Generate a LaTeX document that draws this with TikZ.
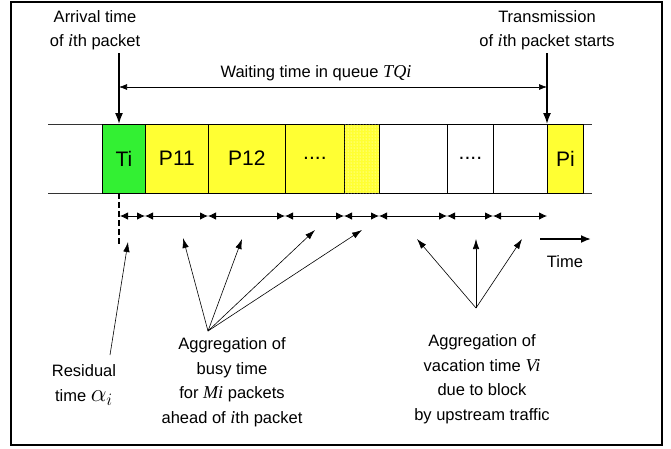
\documentclass[tikz,border=0pt]{standalone}
\usepackage{fontspec}
\setmainfont{Liberation Sans}
\newfontfamily\tms{Liberation Serif}[Scale=1.1]
\usetikzlibrary{arrows.meta,patterns}
\definecolor{cgreen}{HTML}{33F033}
\definecolor{cyellow}{HTML}{FFFF33}
\newcommand{\itx}[1]{{\tms\itshape #1}}
\begin{document}
\begin{tikzpicture}[x=1pt,y=-1pt,
  cell/.style={draw=black, line width=0.8pt, minimum height=69pt, inner sep=0pt, anchor=west, font=\fontsize{21}{24}\selectfont},
  lbl/.style={align=center, inner sep=0pt, font=\fontsize{16.5}{24.5}\selectfont},
  bigarrow/.style={line width=1.6pt, -{Latex[length=11pt,width=8pt]}},
  waitarrow/.style={line width=0.7pt, {Latex[length=8pt,width=6pt]}-{Latex[length=8pt,width=6pt]}},
  span/.style={line width=0.8pt, {Latex[length=8pt,width=7.5pt]}-{Latex[length=8pt,width=7.5pt]}},
  ptr/.style={line width=0.6pt, -{Latex[length=10pt,width=6.5pt]}},
  tape/.style={line width=0.8pt, draw=black!80}]
\useasboundingbox (0,0) rectangle (671,448);
\draw[line width=1.8pt] (11,2) rectangle (662,445);

% tape lines
\coordinate (tl1) at (48,124);
\coordinate (tl2) at (592,124);
\coordinate (bl1) at (48,193);
\coordinate (bl2) at (592,193);
\draw[tape] (tl1) -- (tl2);
\draw[tape] (bl1) -- (bl2);

% cells
\node[cell, fill=cgreen, minimum width=43pt] (ti) at (102,158.5) {Ti};
\node[cell, fill=cyellow, minimum width=63pt] (p11) at (145,158.5) {P11};
\node[cell, fill=cyellow, minimum width=77pt] (p12) at (208,158.5) {P12};
\node[cell, fill=cyellow, minimum width=59pt] (pd) at (285,158.5) {....};
\node[cell, fill=cyellow, minimum width=35pt] (pdot) at (344,158.5) {};
\fill[pattern=dots, pattern color=white] ([xshift=0.4pt,yshift=0.4pt]pdot.south west) rectangle ([xshift=-0.4pt,yshift=-0.4pt]pdot.north east);
\node[cell, minimum width=68pt] (v1) at (379,158.5) {};
\node[cell, minimum width=46pt] (v2) at (447,158.5) {....};
\node[cell, minimum width=54pt] (v3) at (493,158.5) {};
\node[cell, fill=cyellow, minimum width=36pt] (pi) at (547,158.5) {Pi};

% top labels
\node[lbl] (arrlbl) at (95,30) {Arrival time\\of \itx{i}th packet};
\node[lbl] (trlbl) at (547,30) {Transmission\\of \itx{i}th packet starts};
\node[lbl] (waitlbl) at (316,73) {Waiting time in queue \itx{TQi}};

\coordinate (arrtop) at (119,53);
\coordinate (arrbot) at (119,124);
\coordinate (trtop) at (547,53);
\coordinate (trbot) at (547,124);
\draw[bigarrow] (arrtop) -- (arrbot);
\draw[bigarrow] (trtop) -- (trbot);
\coordinate (w1) at (119,87);
\coordinate (w2) at (547,87);
\draw[waitarrow] (w1) -- (w2);

% dashed residual marker
\coordinate (d1) at (119,193);
\coordinate (d2) at (119,244);
\draw[line width=2pt, dash pattern=on 6pt off 3pt] (d1) -- (d2);

% interval arrows
\foreach \n/\x in {a/120,b/145,c/208,d/285,e/344,f/379,g/447,h/493,k/547}
  \coordinate (s\n) at (\x,216);
\foreach \p/\q in {a/b,b/c,c/d,d/e,e/f,f/g,g/h,h/k}
  \draw[span] (s\p) -- (s\q);

% time arrow
\coordinate (t1) at (540,239);
\coordinate (t2) at (591,239);
\draw[line width=1.8pt, -{Latex[length=10pt,width=8pt]}] (t1) -- (t2);
\node[lbl] (timelbl) at (565,262) {Time};

% bottom labels
\node[lbl] (reslbl) at (84,385) {Residual\\time \scalebox{1.45}{\(\alpha_i\)}};
\node[lbl] (busylbl) at (232,382) {Aggregation of\\busy time\\for \itx{Mi} packets\\ahead of \itx{i}th packet};
\node[lbl] (vaclbl) at (482,379) {Aggregation of\\vacation time \itx{Vi}\\due to block\\by upstream traffic};

% pointers
\coordinate (ro) at (110,355);
\coordinate (rt) at (128,242);
\draw[ptr] (ro) -- (rt);
\coordinate (bo) at (208,331);
\coordinate (b1) at (183,238);
\coordinate (b2) at (242,239);
\coordinate (b3) at (315,230);
\coordinate (b4) at (362,230);
\foreach \t in {b1,b2,b3,b4} \draw[ptr] (bo) -- (\t);
\coordinate (vo) at (476,308);
\coordinate (v1t) at (417,239);
\coordinate (v2t) at (476,239);
\coordinate (v3t) at (522,239);
\foreach \t in {v1t,v2t,v3t} \draw[ptr] (vo) -- (\t);
\end{tikzpicture}
\end{document}
